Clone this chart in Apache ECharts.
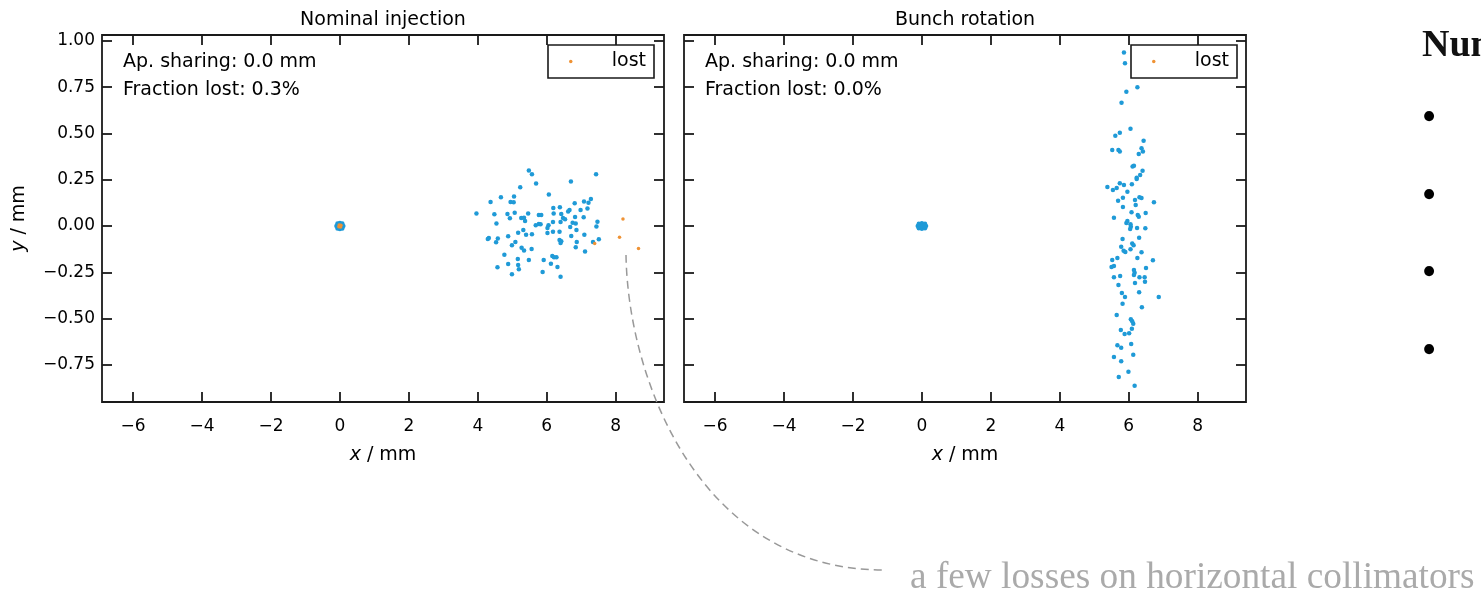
<!DOCTYPE html>
<html><head><meta charset="utf-8">
<script src="https://cdn.jsdelivr.net/npm/echarts@6/dist/echarts.min.js"></script>
<style>html,body{margin:0;padding:0;background:#fff}#c{width:1481px;height:592px}</style>
</head><body><div id="c"></div>
<script>
// ---- data ----
const xTicks = [-6, -4, -2, 0, 2, 4, 6, 8];
const yTicks = [-0.75, -0.5, -0.25, 0, 0.25, 0.5, 0.75, 1.0];
const xRange = [-6.9, 9.4];
const yRange = [-0.951, 1.032];
const panelTitles = ['Nominal injection', 'Bunch rotation'];
const apSharing = ['Ap. sharing: 0.0 mm', 'Ap. sharing: 0.0 mm'];
const fractionLost = ['Fraction lost: 0.3%', 'Fraction lost: 0.0%'];

const nominalCore = [[-0.10,0],[-0.07,0.014],[-0.07,-0.014],[0,0.016],[0,-0.016],[0.07,0.014],[0.07,-0.014],[0.10,0],[-0.04,0],[0.04,0],[0,0]];
const nominalCoreLost = [[0,0],[0.03,0.004],[-0.03,-0.004],[0.02,-0.005],[-0.02,0.005]];
const nominalKept = [[5.48,0.30],[5.57,0.28],[7.43,0.28],[5.69,0.23],[6.70,0.24],[5.23,0.21],[6.06,0.17],[4.67,0.155],[5.05,0.16],[4.37,0.13],[4.95,0.13],[5.04,0.128],[7.28,0.146],[6.81,0.123],[7.08,0.132],[7.21,0.126],[6.19,0.097],[6.38,0.101],[6.66,0.087],[6.62,0.078],[6.98,0.087],[7.18,0.094],[3.96,0.067],[4.48,0.063],[4.86,0.065],[5.07,0.072],[5.46,0.068],[4.93,0.042],[5.26,0.043],[5.34,0.045],[5.77,0.060],[5.84,0.060],[6.20,0.068],[6.42,0.065],[6.47,0.043],[6.53,0.036],[6.82,0.049],[7.07,0.047],[7.47,0.023],[4.54,0.014],[5.37,0.027],[5.68,0.004],[5.77,0.011],[5.82,0.009],[6.05,0.004],[6.02,-0.011],[6.18,0.022],[6.40,0.022],[6.68,-0.005],[6.75,0.018],[6.84,0.014],[7.44,-0.003],[5.32,-0.021],[5.17,-0.036],[5.40,-0.047],[5.57,-0.045],[6.02,-0.038],[6.18,-0.031],[6.37,-0.031],[6.86,-0.021],[6.71,-0.054],[7.09,-0.047],[4.32,-0.065],[4.29,-0.070],[4.58,-0.068],[4.88,-0.056],[4.53,-0.088],[5.09,-0.086],[4.99,-0.104],[6.37,-0.075],[6.42,-0.083],[6.40,-0.092],[6.87,-0.086],[7.34,-0.086],[7.51,-0.072],[5.27,-0.117],[5.34,-0.133],[5.56,-0.124],[6.84,-0.115],[7.11,-0.138],[4.77,-0.155],[6.16,-0.162],[6.21,-0.169],[6.28,-0.169],[5.16,-0.178],[5.48,-0.184],[5.91,-0.184],[4.88,-0.205],[5.17,-0.211],[6.12,-0.204],[5.19,-0.234],[4.57,-0.223],[6.31,-0.221],[4.99,-0.261],[5.88,-0.248],[6.40,-0.274]];
const nominalLost = [[8.21,0.038],[8.11,-0.061],[8.66,-0.122],[7.39,-0.095]];

const rotationCore = [[-0.12,0],[-0.09,0.012],[-0.09,-0.012],[0,0.015],[0,-0.015],[0.09,0.012],[0.09,-0.012],[0.12,0],[-0.05,0],[0.05,0],[0,0]];
const rotationKept = [[5.86,0.937],[5.89,0.879],[6.25,0.750],[5.93,0.726],[5.79,0.666],[6.05,0.526],[5.74,0.504],[5.61,0.488],[6.43,0.461],[5.52,0.411],[5.70,0.411],[5.74,0.402],[6.37,0.420],[6.41,0.402],[6.29,0.389],[6.11,0.321],[6.15,0.326],[6.40,0.299],[6.33,0.276],[6.23,0.261],[6.23,0.254],[5.86,0.222],[5.74,0.231],[5.65,0.205],[5.54,0.195],[5.38,0.211],[6.09,0.225],[5.96,0.185],[5.83,0.153],[5.69,0.137],[6.31,0.155],[6.37,0.151],[6.18,0.141],[6.73,0.128],[6.20,0.114],[5.83,0.103],[6.08,0.074],[6.49,0.070],[6.26,0.059],[6.29,0.050],[5.57,0.045],[5.96,0.027],[5.93,0.016],[6.05,0.009],[6.06,-0.004],[6.04,-0.016],[6.24,-0.011],[6.48,-0.012],[5.82,-0.070],[6.30,-0.063],[6.10,-0.094],[6.14,-0.104],[5.78,-0.112],[6.05,-0.126],[5.85,-0.134],[5.90,-0.141],[6.37,-0.142],[5.67,-0.173],[5.52,-0.184],[6.25,-0.173],[6.70,-0.185],[5.57,-0.216],[5.50,-0.222],[6.50,-0.227],[6.15,-0.238],[6.17,-0.252],[6.15,-0.265],[5.75,-0.270],[5.57,-0.277],[6.31,-0.277],[6.46,-0.277],[6.47,-0.301],[6.18,-0.308],[5.70,-0.319],[5.80,-0.362],[5.89,-0.384],[6.30,-0.358],[6.87,-0.384],[5.82,-0.420],[6.38,-0.439],[5.65,-0.481],[6.06,-0.504],[6.10,-0.515],[6.13,-0.528],[6.09,-0.555],[5.77,-0.562],[5.88,-0.584],[6.01,-0.580],[5.67,-0.645],[5.78,-0.658],[6.07,-0.638],[6.13,-0.696],[5.57,-0.708],[5.78,-0.731],[5.99,-0.788],[5.71,-0.816],[6.17,-0.863]];
const rotationLost = [];

const slideHeading = 'Number of lost particles';
const bulletMarks = ['\u2022', '\u2022', '\u2022', '\u2022'];
const calloutText = 'a few losses on horizontal collimators';

// ---- styling ----
const FONT = '"DejaVu Sans", sans-serif';
const SERIF = '"Liberation Serif", "DejaVu Serif", serif';
const BLUE = '#1f9ad7';
const ORANGE = '#ef9234';
const FRAME = '#1a1a1a';
const gridsPos = [{ left: 102, top: 35, width: 562, height: 367 }, { left: 684, top: 35, width: 562, height: 367 }];

const minus = s => s.replace('-', '\u2212');
const fmtX = v => minus(String(v));
const fmtY = v => minus(Number(v).toFixed(2));

const tickStyle = (vals) => ({ show: true, inside: true, length: 10, customValues: vals, lineStyle: { color: FRAME, width: 1.8 } });

const xAxes = [], yAxes = [];
gridsPos.forEach((g, i) => {
  xAxes.push({
    gridIndex: i, type: 'value', min: xRange[0], max: xRange[1], position: 'bottom',
    axisLine: { show: false, onZero: false }, splitLine: { show: false },
    axisTick: tickStyle(xTicks),
    axisLabel: { customValues: xTicks, formatter: fmtX, margin: 16, fontSize: 17, fontFamily: FONT, color: '#000' },
    name: '{i|x} / mm', nameLocation: 'middle', nameGap: 44,
    nameTextStyle: { fontSize: 19, fontFamily: FONT, color: '#000', rich: { i: { fontStyle: 'italic', fontSize: 19, fontFamily: FONT } } }
  });
  xAxes.push({
    gridIndex: i, type: 'value', min: xRange[0], max: xRange[1], position: 'top',
    axisLine: { show: false, onZero: false }, splitLine: { show: false },
    axisTick: tickStyle(xTicks), axisLabel: { show: false }
  });
  yAxes.push({
    gridIndex: i, type: 'value', min: yRange[0], max: yRange[1], position: 'left',
    axisLine: { show: false, onZero: false }, splitLine: { show: false },
    axisTick: tickStyle(yTicks),
    axisLabel: { show: i === 0, customValues: yTicks, formatter: fmtY, margin: 7, fontSize: 17, fontFamily: FONT, color: '#000' },
    name: i === 0 ? '{i|y} / mm' : '', nameLocation: 'middle', nameGap: 73,
    nameTextStyle: { fontSize: 19, fontFamily: FONT, color: '#000', rich: { i: { fontStyle: 'italic', fontSize: 19, fontFamily: FONT } } }
  });
  yAxes.push({
    gridIndex: i, type: 'value', min: yRange[0], max: yRange[1], position: 'right',
    axisLine: { show: false, onZero: false }, splitLine: { show: false },
    axisTick: tickStyle(yTicks), axisLabel: { show: false }
  });
});

const sc = (name, xi, yi, data, color, size) => ({
  type: 'scatter', name, xAxisIndex: xi, yAxisIndex: yi, data, symbolSize: size,
  itemStyle: { color, opacity: 1 }, silent: true, animation: false
});

const series = [
  sc('kept', 0, 0, nominalCore, BLUE, 4.5),
  sc('kept', 0, 0, nominalKept, BLUE, 4.5),
  sc('lost', 0, 0, nominalCoreLost, ORANGE, 3.5),
  sc('lost', 0, 0, nominalLost, ORANGE, 3.5),
  sc('kept', 2, 2, rotationCore, BLUE, 4.5),
  sc('kept', 2, 2, rotationKept, BLUE, 4.5),
  sc('lost', 2, 2, rotationLost, ORANGE, 3.5)
];

const legendCfg = (left) => ({
  data: ['lost'], left, top: 45, orient: 'horizontal', padding: [7, 8, 7, 21],
  itemWidth: 14, itemHeight: 3.5, icon: 'circle', selectedMode: false,
  borderColor: FRAME, borderWidth: 1.6, borderRadius: 0, backgroundColor: '#fff',
  textStyle: { fontSize: 19, fontFamily: FONT, color: '#000', padding: [0, 0, 0, 29] }
});

const titles = gridsPos.map((g, i) => ({
  text: panelTitles[i], left: g.left + g.width / 2, top: 11, textAlign: 'center', padding: 0,
  textStyle: { fontSize: 19, fontWeight: 'normal', fontFamily: FONT, color: '#000' }
}));

const graphics = [];
gridsPos.forEach((g, i) => {
  graphics.push({ type: 'text', x: g.left + 21, y: 62, silent: true,
    style: { text: apSharing[i], font: '19px ' + FONT, fill: '#000', verticalAlign: 'middle' } });
  graphics.push({ type: 'text', x: g.left + 21, y: 90, silent: true,
    style: { text: fractionLost[i], font: '19px ' + FONT, fill: '#000', verticalAlign: 'middle' } });
});
graphics.push({ type: 'bezierCurve', silent: true, z: 10,
  shape: { x1: 626, y1: 255, cpx1: 628, cpy1: 380, cpx2: 700, cpy2: 570, x2: 884, y2: 570 },
  style: { stroke: '#999', lineWidth: 1.5, lineDash: [8, 5], fill: null } });
graphics.push({ type: 'text', x: 910, y: 578, silent: true,
  style: { text: calloutText, font: '37.3px ' + SERIF, fill: '#aaa', verticalAlign: 'middle' } });
graphics.push({ type: 'text', x: 1422, y: 46, silent: true,
  style: { text: slideHeading, font: 'bold 38px ' + SERIF, fill: '#111', verticalAlign: 'middle' } });
[119, 197, 274, 352].forEach((y, k) => {
  graphics.push({ type: 'text', x: 1429, y: y, silent: true,
    style: { text: bulletMarks[k], font: '42px ' + SERIF, fill: '#000', align: 'center', verticalAlign: 'middle' } });
});

const chart = echarts.init(document.getElementById('c'), null, { renderer: 'canvas' });
chart.setOption({
  animation: false,
  backgroundColor: '#fff',
  title: titles,
  legend: [legendCfg(548), legendCfg(1131)],
  grid: gridsPos.map(g => Object.assign({ show: true, borderColor: FRAME, borderWidth: 1.8, backgroundColor: 'transparent', containLabel: false }, g)),
  xAxis: xAxes,
  yAxis: yAxes,
  series,
  graphic: graphics
});
</script></body></html>
